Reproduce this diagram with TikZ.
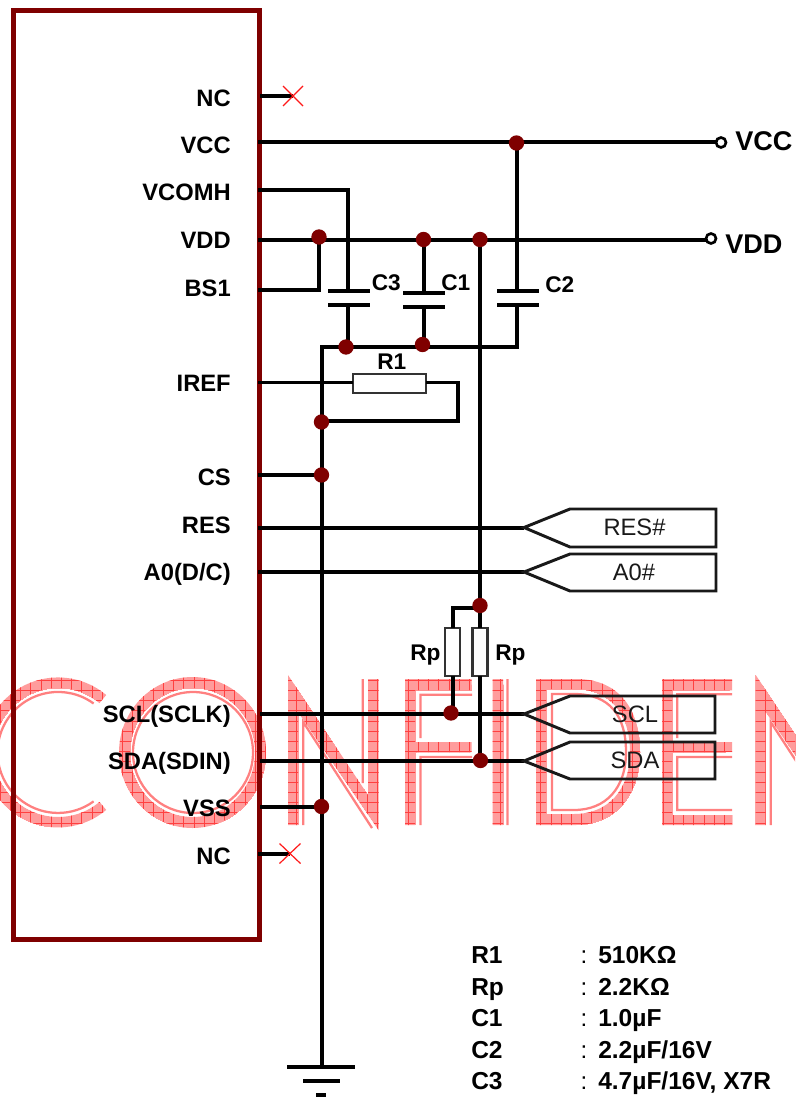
\documentclass[tikz,border=0pt]{standalone}
\usepackage{fontspec}
\usetikzlibrary{calc}
\setmainfont{Liberation Sans}
\definecolor{icred}{HTML}{7F0000}
\definecolor{wmpink}{HTML}{FF9C9C}
\definecolor{wmline}{HTML}{FF4040}
\definecolor{wmthin}{HTML}{FF8080}
\tikzset{
  wire/.style={line width=3pt,black,line join=miter},
  thinwire/.style={line width=2.4pt,black},
  tagline/.style={line width=2.2pt,black!90,line join=miter},
  dot/.style={circle,fill=icred,draw=none,minimum size=11.5pt,inner sep=0pt,outer sep=0pt},
  term/.style={circle,fill=white,draw=black,line width=2pt,minimum size=7.5pt,inner sep=0pt,outer sep=0pt},
  res/.style={rectangle,fill=white,draw=black!80,line width=2pt,inner sep=0pt,outer sep=0pt},
  plate/.style={rectangle,fill=black,draw=none,minimum width=31.5pt,minimum height=2.8pt,inner sep=0pt,outer sep=0pt},
  pin/.style={font=\fontsize{17.8pt}{20pt}\selectfont\bfseries,anchor=base east,inner sep=0pt},
  tagtxt/.style={font=\fontsize{17.8pt}{20pt}\selectfont,anchor=base,inner sep=0pt,text=black!90},
  lab/.style={font=\fontsize{17pt}{20pt}\selectfont\bfseries,anchor=base west,inner sep=0pt},
  leg/.style={font=\fontsize{18.4pt}{20pt}\selectfont\bfseries,anchor=base west,inner sep=0pt},
  legc/.style={font=\fontsize{18pt}{20pt}\selectfont,anchor=base,inner sep=0pt},
  big/.style={font=\fontsize{20.3pt}{22pt}\selectfont\bfseries,anchor=base west,inner sep=0pt},
  xmark/.style={red!90!white,line width=0.9pt},
  wmglyph/.style={font=\fontsize{153pt}{153pt}\selectfont,anchor=base west,inner sep=0pt,outer sep=0pt,text=wmpink},
  wmfine/.style={line width=1.7pt,wmthin,line join=miter}
}
% hatched bands of the watermark
\newcommand{\wmbands}{
  (106.2,695) arc[start angle=-50,end angle=-310,radius=75] -- (99.5,801.9) arc[start angle=-310,end angle=-50,radius=64.5] -- cycle
  (266,752.5) arc[start angle=0,end angle=360,x radius=73.5,y radius=75.5] -- (255,752.5) arc[start angle=360,end angle=0,x radius=62.5,y radius=64.5] -- cycle
  (288,675) -- (368,795) -- (368,679) -- (378.5,679) -- (378.5,830) -- (298,712) -- (298,825) -- (288,825) -- cycle
  (405,679) -- (471.5,679) -- (471.5,690) -- (415,690) -- (415,742) -- (471.5,742) -- (471.5,752) -- (415,752) -- (415,825) -- (405,825) -- cycle
  (492.5,679) rectangle (503,825)
  (536,679) -- (576,679) .. controls (618,679) and (640,708) .. (640,752) .. controls (640,798) and (612,825) .. (576,825) -- (536,825) -- cycle
  (546,814) -- (574,814) .. controls (608,814) and (630,790) .. (630,752) .. controls (630,714) and (610,689) .. (574,689) -- (546,689) -- cycle
  (662,679) -- (732,679) -- (732,690) -- (672,690) -- (672,742) -- (732,742) -- (732,752) -- (672,752) -- (672,815) -- (732,815) -- (732,825) -- (662,825) -- cycle
  (755.7,675) -- (835.7,795) -- (835.7,679) -- (846.2,679) -- (846.2,830) -- (765.7,712) -- (765.7,825) -- (755.7,825) -- cycle
}
\newcommand{\wmthinlines}{
  (93.6,703.5) arc[start angle=-54,end angle=-306,radius=60.5]
  (253,752.5) arc[start angle=0,end angle=360,x radius=60,y radius=60.5] -- cycle
  (303.2,825) -- (303.2,722) -- (372,828)
  (362.8,679) -- (362.8,783)
  (472,694.7) -- (420.5,694.7) -- (420.5,738)
  (472,757) -- (420.5,757) -- (420.5,825)
  (507.5,679) -- (507.5,825)
  (552,694) -- (574,694) .. controls (610,694) and (626,716) .. (626,752) .. controls (626,788) and (606,810) .. (574,810) -- (552,810) -- cycle
  (732,694.3) -- (677.2,694.3) -- (677.2,738)
  (732,757) -- (677.2,757) -- (677.2,810) -- (732,810)
  (770.7,825) -- (770.7,722) -- (839.7,828)
  (830.3,679) -- (830.3,783)
}
\begin{document}
\begin{tikzpicture}[x=0.75pt,y=-0.75pt]
\useasboundingbox (0,0) rectangle (795,1098);
\fill[white] (0,0) rectangle (795,1098);

% watermark, below everything else
\begin{scope}
  \clip (0,0) rectangle (795,1098);
  \draw[wmfine] \wmthinlines;
  \fill[wmpink] \wmbands;
  \begin{scope}
    \clip \wmbands;
    \node[wmglyph] (wC) at (-26.8,825) {\scalebox{.965}[1]{C}};
    \node[wmglyph] (wO) at (108.2,825) {\scalebox{1.06}[1]{O}};
    \node[wmglyph] (wN) at (275.9,825) {\scalebox{.78}[1]{N}};
    \node[wmglyph] (wF) at (393.6,825) {\scalebox{.68}[1]{F}};
    \node[wmglyph] (wI) at (476,825) {\scalebox{.87}[1]{I}};
    \node[wmglyph] (wD) at (521.5,825) {\scalebox{.87}[1]{D}};
    \node[wmglyph] (wE) at (651.3,825) {\scalebox{.64}[1]{E}};
    \node[wmglyph] (wNb) at (743.6,825) {\scalebox{.78}[1]{N}};
    \foreach \gx in {0,10.2,...,800}{\draw[wmline,line width=0.45pt] (\gx,670) -- (\gx,835);}
    \foreach \gy in {680,690.2,...,835}{\draw[wmline,line width=0.45pt] (0,\gy) -- (800,\gy);}
  \end{scope}
\end{scope}

% IC outline
\node[draw=icred,line width=3.75pt,rectangle,minimum width=184.875pt,minimum height=696.4pt,inner sep=0pt,outer sep=0pt] (ic) at (136.25,474.75) {};

% pins (on the chip edge)
\coordinate (pNCa) at (260,96);
\coordinate (pVCC) at (258,142.5);
\coordinate (pVCOMH) at (258,190);
\coordinate (pVDD) at (258,240);
\coordinate (pBS) at (258,290);
\coordinate (pIREF) at (258,382.5);
\coordinate (pCS) at (258,475);
\coordinate (pRES) at (258,527.5);
\coordinate (pAO) at (258,572);
\coordinate (pSCL) at (260,714);
\coordinate (pSDA) at (260,761);
\coordinate (pVSS) at (260,806.5);
\coordinate (pNCb) at (258,853.5);

% junctions
\coordinate (jA) at (516.5,143);
\coordinate (jB) at (319,237);
\coordinate (jC) at (423.5,239.5);
\coordinate (jD) at (480,239.5);
\coordinate (jE) at (346,347);
\coordinate (jF) at (422.5,344.5);
\coordinate (jG) at (321.5,422);
\coordinate (jH) at (321.5,475);
\coordinate (jI) at (480,605.5);
\coordinate (jJ) at (451,713);
\coordinate (jK) at (480.5,760.5);
\coordinate (jL) at (321.5,806.5);

% helper corners
\coordinate (kV) at (348,190);
\coordinate (kB) at (319,290);
\coordinate (kBusL) at (321.5,347);
\coordinate (kBusR) at (517,347);
\coordinate (kCtwo) at (517,142.5);
\coordinate (kCthree) at (348,347);
\coordinate (kIa) at (458,382.5);
\coordinate (kIb) at (458,420.5);
\coordinate (kIc) at (321.5,420.5);
\coordinate (kRpL) at (452.5,607.5);
\coordinate (kRpR) at (480,607.5);
\coordinate (kSCLend) at (524,714);
\coordinate (kSDAend) at (524,761);
\coordinate (xa) at (293,96);
\coordinate (xb) at (290,853.5);

% terminals
\node[term] (tVCC) at (721,142.5) {};
\node[term] (tVDD) at (711,238.5) {};

% capacitor plates
\node[plate] (c3a) at (349,291) {};
\node[plate] (c3b) at (349,305) {};
\node[plate] (c1a) at (423.5,293) {};
\node[plate,minimum height=3.6pt] (c1b) at (423.5,307) {};
\node[plate] (c2a) at (518,291) {};
\node[plate] (c2b) at (518,305) {};

% resistors
\node[res,minimum width=54.75pt,minimum height=14.25pt] (rone) at (389.5,383.5) {};
\node[res,minimum width=11.25pt,minimum height=36pt] (rpl) at (452.5,652) {};
\node[res,minimum width=11.25pt,minimum height=36pt] (rpr) at (480,652) {};

% ground
\coordinate (gnd) at (321.5,1067);
\node[rectangle,fill=black,minimum width=51pt,minimum height=3.3pt,inner sep=0pt] (g1) at (320.5,1067) {};
\node[rectangle,fill=black,minimum width=28pt,minimum height=3.3pt,inner sep=0pt] (g2) at (321.5,1081) {};
\node[rectangle,fill=black,minimum width=8pt,minimum height=3.3pt,inner sep=0pt] (g3) at (321,1095) {};

% wires
\draw[wire] (pVCC) -- (tVCC.west);
\draw[wire] (pVDD) -- (tVDD.west |- pVDD);
\draw[wire] (pVCOMH) -- (kV) -- (kV |- c3a);
\draw[wire] (pBS) -- (kB) -- (jB);
\draw[wire] (kCthree |- c3b) -- (kCthree);
\draw[wire] (jC) -- (c1a);
\draw[wire] (c1b) -- (c1b |- jF);
\draw[wire] (kCtwo) -- (kCtwo |- c2a);
\draw[wire] (kCtwo |- c2b) -- (kBusR) -- (kBusL) -- (gnd);
\draw[wire] (jD) -- (rpr.north);
\draw[wire] (rpr.south) -- (rpr.south |- jK);
\draw[wire] (jI) -- (kRpR) -- (kRpL) -- (rpl.north);
\draw[wire] (rpl.south) -- (rpl.south |- jJ);
\draw[thinwire] (pIREF) -- (rone.west |- pIREF);
\draw[thinwire] (rone.east |- kIa) -- (kIa);
\draw[wire,line cap=rect] (kIa) -- (kIb) -- (kIc);
\draw[wire] (pCS) -- (jH);
\draw[wire] (pRES) -- (524,527.5);
\draw[thinwire] (pAO) -- (524,572);
\draw[wire] (pSCL) -- (kSCLend);
\draw[wire] (pSDA) -- (kSDAend);
\draw[wire] (pVSS) -- (jL);
\draw[wire] (pNCa) -- (xa);
\draw[wire] (pNCb) -- (xb);

% X marks
\draw[xmark] ($(xa)+(-10,-10)$) -- ($(xa)+(10,10)$);
\draw[xmark] ($(xa)+(-10,10)$) -- ($(xa)+(10,-10)$);
\draw[xmark] ($(xb)+(-10.5,-10)$) -- ($(xb)+(10.5,10)$);
\draw[xmark] ($(xb)+(-10.5,10)$) -- ($(xb)+(10.5,-10)$);

% junction dots
\foreach \n in {jA,jB,jC,jD,jE,jF,jG,jH,jI,jJ,jK,jL}{\node[dot] (d\n) at (\n) {};}

% tags
\coordinate (tagRES) at (524,527.5);
\draw[tagline] (tagRES) -- (570,509) -- (716,509) -- (716,547) -- (570,547) -- cycle;
\coordinate (tagAO) at (524,572);
\draw[tagline] (tagAO) -- (570,554) -- (716,554) -- (716,591) -- (570,591) -- cycle;
\draw[tagline] (kSCLend) -- (570,696) -- (715,696) -- (715,733) -- (570,733) -- cycle;
\draw[tagline] (kSDAend) -- (570,742) -- (715,742) -- (715,779) -- (570,779) -- cycle;
\node[tagtxt] (tRES) at (634.5,535.5) {RES\#};
\node[tagtxt] (tAO) at (634,580.5) {A0\#};
\node[tagtxt] (tSCL) at (635,722) {SCL};
\node[tagtxt] (tSDA) at (635,768) {SDA};

% pin labels
\node[pin] (lNCa) at (231,107) {NC};
\node[pin] (lVCC) at (231,154) {VCC};
\node[pin] (lVCOMH) at (231,201) {VCOMH};
\node[pin] (lVDD) at (231,248) {VDD};
\node[pin] (lBS) at (231,296) {BS1};
\node[pin] (lIREF) at (231,391.5) {IREF};
\node[pin] (lCS) at (231,485.5) {CS};
\node[pin] (lRES) at (231,533) {RES};
\node[pin] (lAO) at (231,580) {A0(D/C)};
\node[pin] (lSCL) at (231,722) {SCL(SCLK)};
\node[pin] (lSDA) at (231,769) {SDA(SDIN)};
\node[pin] (lVSS) at (231,816) {VSS};
\node[pin] (lNCb) at (231,864) {NC};

\node[big] (lbVCC) at (735,151) {VCC};
\node[big] (lbVDD) at (725,253) {VDD};

% part labels
\node[lab] (lC3) at (371.5,290) {C3};
\node[lab] (lC1) at (441,290) {C1};
\node[lab] (lC2) at (545,292) {C2};
\node[lab] (lR1) at (377,369) {R1};
\node[lab] (lRpa) at (410,660) {Rp};
\node[lab] (lRpb) at (495,660) {Rp};

% legend
\node[leg] (k1) at (471,963) {R1};  \node[legc] (s1) at (584,963) {:}; \node[leg] (v1) at (598,963) {510KΩ};
\node[leg] (k2) at (471,995) {Rp};  \node[legc] (s2) at (584,995) {:}; \node[leg] (v2) at (598,995) {2.2KΩ};
\node[leg] (k3) at (471,1026) {C1}; \node[legc] (s3) at (584,1026) {:}; \node[leg] (v3) at (598,1026) {1.0µF};
\node[leg] (k4) at (471,1058) {C2}; \node[legc] (s4) at (584,1058) {:}; \node[leg] (v4) at (598,1058) {2.2µF/16V};
\node[leg] (k5) at (471,1089) {C3}; \node[legc] (s5) at (584,1089) {:}; \node[leg] (v5) at (598,1089) {4.7µF/16V, X7R};
\end{tikzpicture}
\end{document}
